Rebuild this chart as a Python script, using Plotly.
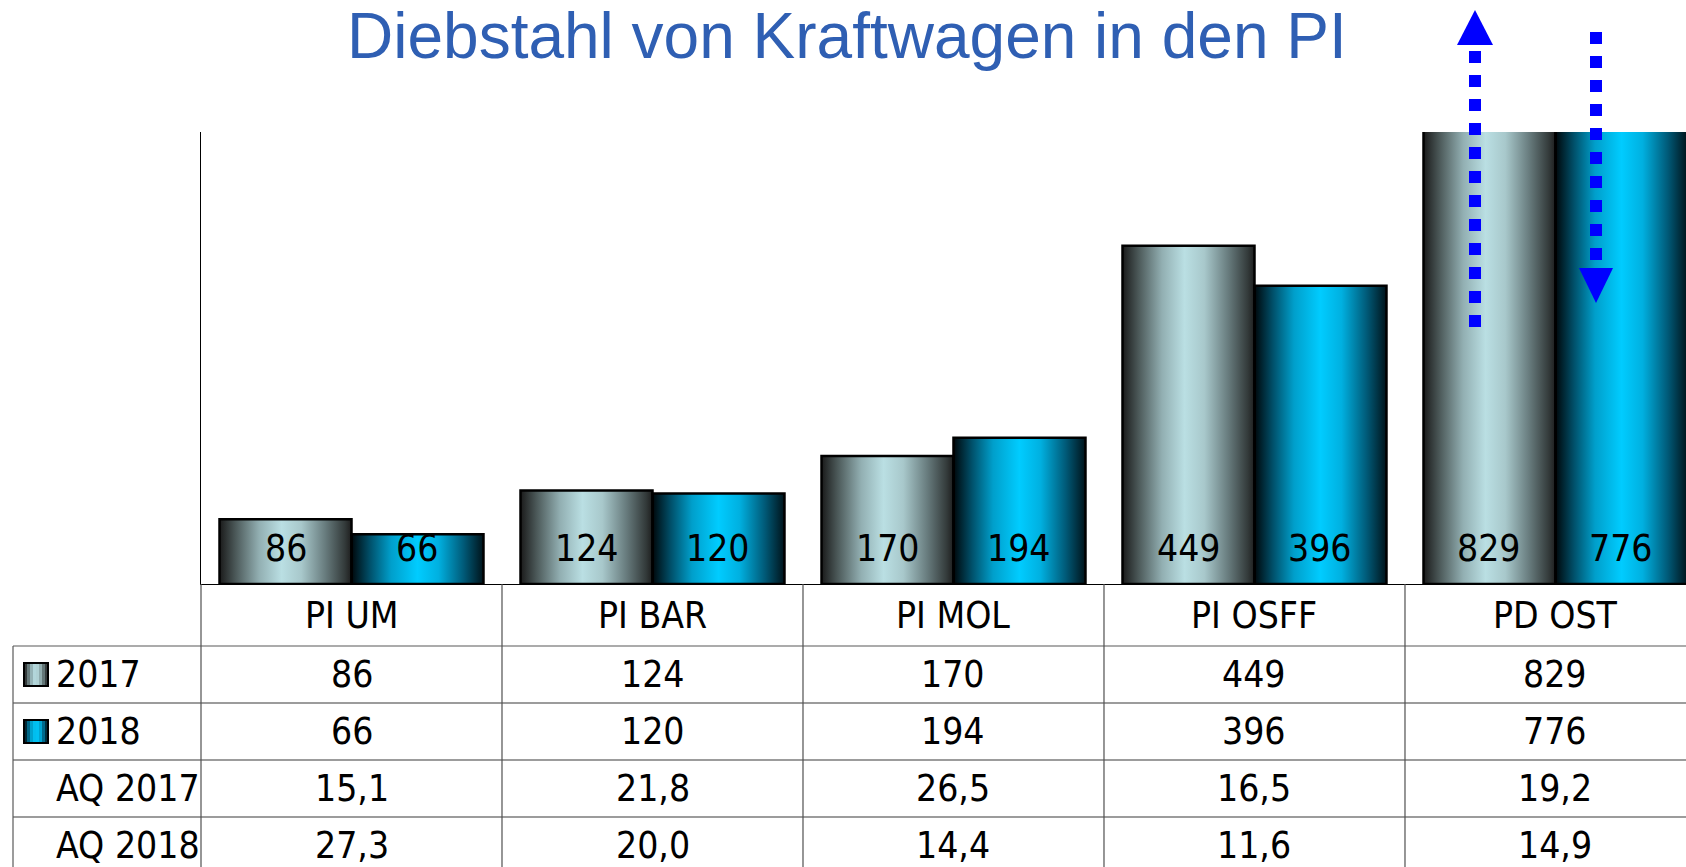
import plotly.graph_objects as go

# ---------------- data ----------------
categories = ["PI UM", "PI BAR", "PI MOL", "PI OSFF", "PD OST"]
series_names = ["2017", "2018"]
values_2017 = [86, 124, 170, 449, 829]
values_2018 = [66, 120, 194, 396, 776]
aq_2017 = ["15,1", "21,8", "26,5", "16,5", "19,2"]
aq_2018 = ["27,3", "20,0", "14,4", "11,6", "14,9"]
row_labels = ["2017", "2018", "AQ 2017", "AQ 2018"]
title_text = "Diebstahl von Kraftwagen in den PI"

# ---------------- layout constants ----------------
W, H = 1686, 867
L_PX, T_PX, BASE_PX = 201, 132, 584
X_MIN, X_MAX = -0.5, 4.4336
Y_MAX = 600
BAR_W = 0.4385

NARROW = "DejaVu Sans Condensed, Liberation Sans Narrow, Arial Narrow, sans-serif"
SANS = "Liberation Sans, Arial, sans-serif"
FS = 37

SCALE_2017 = [[0, "#1a1a1a"], [0.12, "#4b5858"], [0.3, "#92afb2"], [0.47, "#badfe3"],
              [0.62, "#a8c8cb"], [0.8, "#687c7e"], [0.95, "#333a3a"], [1, "#1e1e1e"]]
SCALE_2018 = [[0, "#00070a"], [0.14, "#00506a"], [0.3, "#009fcb"], [0.5, "#00ccff"],
              [0.66, "#00b0e0"], [0.85, "#005a78"], [1, "#00131a"]]
SCALES = [SCALE_2017, SCALE_2018]
series_values = [values_2017, values_2018]
offsets = [-BAR_W, 0.0]


def xp(px):
    return (px - L_PX) / (W - L_PX)


def yp(py):
    return (BASE_PX - py) / (BASE_PX - T_PX)


def xd2p(x):
    return (x - X_MIN) / (X_MAX - X_MIN)


def interp_color(scale, t):
    for (t0, c0), (t1, c1) in zip(scale[:-1], scale[1:]):
        if t0 <= t <= t1:
            f = 0 if t1 == t0 else (t - t0) / (t1 - t0)
            a = [int(c0[k:k + 2], 16) for k in (1, 3, 5)]
            b = [int(c1[k:k + 2], 16) for k in (1, 3, 5)]
            return "rgb(%d,%d,%d)" % tuple(round(a[j] + (b[j] - a[j]) * f) for j in range(3))
    return scale[-1][1]


fig = go.Figure()

# gradient bodies of the bars (main y axis, drawn below)
for s, vals in enumerate(series_values):
    for i, v in enumerate(vals):
        x0 = i + offsets[s]
        x1 = x0 + BAR_W
        fig.add_trace(go.Scatter(
            x=[x0, x1, x1, x0, x0], y=[0, 0, v, v, 0],
            mode="lines", fill="toself", line=dict(width=0, color="rgba(0,0,0,0)"),
            fillgradient=dict(type="horizontal", colorscale=SCALES[s]),
            hoverinfo="skip", showlegend=False,
        ))

# the bars themselves (outlines) on an overlaying axis so they sit on top
for s, vals in enumerate(series_values):
    fig.add_trace(go.Bar(
        x=list(range(len(categories))), y=vals, name=series_names[s],
        width=BAR_W, offset=offsets[s],
        marker=dict(color="rgba(0,0,0,0)", line=dict(color="black", width=2.5)),
        yaxis="y2", showlegend=False,
    ))

annotations = []
# value labels inside bars
for s, vals in enumerate(series_values):
    for i, v in enumerate(vals):
        annotations.append(dict(
            x=i + offsets[s] + BAR_W / 2, xref="x", y=yp(548), yref="paper",
            text=str(v), showarrow=False, xanchor="center", yanchor="middle",
            font=dict(family=NARROW, size=FS, color="black"),
        ))

# table text
row_centers = [674.5, 731.5, 788.5, 845.5]
table_rows = [[str(v) for v in values_2017], [str(v) for v in values_2018], aq_2017, aq_2018]
for i, c in enumerate(categories):
    annotations.append(dict(
        x=i, xref="x", y=yp(615), yref="paper", text=c, showarrow=False,
        xanchor="center", yanchor="middle", font=dict(family=NARROW, size=FS, color="black"),
    ))
    for r, row in enumerate(table_rows):
        annotations.append(dict(
            x=i, xref="x", y=yp(row_centers[r]), yref="paper", text=row[i], showarrow=False,
            xanchor="center", yanchor="middle", font=dict(family=NARROW, size=FS, color="black"),
        ))
for r, lab in enumerate(row_labels):
    annotations.append(dict(
        x=xp(54), xref="paper", y=yp(row_centers[r]), yref="paper", text=lab, showarrow=False,
        xanchor="left", yanchor="middle", font=dict(family=NARROW, size=FS, color="black"),
    ))

# title
annotations.append(dict(
    x=xp(847), xref="paper", y=yp(36), yref="paper", text=title_text, showarrow=False,
    xanchor="center", yanchor="middle", font=dict(family=SANS, size=64, color="#2F5FB3"),
))

shapes = []
# table grid
grid_dark = "#3a3a3a"
shapes.append(dict(type="line", xref="paper", yref="paper", x0=xp(13), x1=1, y0=yp(646), y1=yp(646),
                   line=dict(color="#8f8f8f", width=1.5)))
for py in (703, 760, 817):
    shapes.append(dict(type="line", xref="paper", yref="paper", x0=xp(13), x1=1, y0=yp(py), y1=yp(py),
                       line=dict(color=grid_dark, width=1.2)))
shapes.append(dict(type="line", xref="paper", yref="paper", x0=xp(13), x1=xp(13), y0=yp(646), y1=yp(H + 5),
                   line=dict(color="#5a5a5a", width=1.2)))
for k in range(len(categories)):
    xb = xd2p(k - 0.5)
    shapes.append(dict(type="line", xref="paper", yref="paper", x0=xb, x1=xb, y0=0, y1=yp(H + 5),
                       line=dict(color="#505050", width=1.2)))

# legend markers with small gradients
for s, py0 in enumerate((663, 720)):
    n = 8
    for j in range(n):
        shapes.append(dict(type="rect", xref="paper", yref="paper",
                           x0=xp(24 + j * 24 / n), x1=xp(24 + (j + 1) * 24 / n),
                           y0=yp(py0 + 23), y1=yp(py0),
                           fillcolor=interp_color(SCALES[s], (j + 0.5) / n), line=dict(width=0)))
    shapes.append(dict(type="rect", xref="paper", yref="paper", x0=xp(24), x1=xp(48),
                       y0=yp(py0 + 23), y1=yp(py0), line=dict(color="black", width=2)))

# dotted arrows
BLUE = "#0000ff"
ux = 1475
shapes.append(dict(type="line", xref="paper", yref="paper", x0=xp(ux), x1=xp(ux), y0=yp(327), y1=yp(51),
                   line=dict(color=BLUE, width=12, dash="dot")))
shapes.append(dict(type="path", xref="paper", yref="paper",
                   path="M %f,%f L %f,%f L %f,%f Z" % (xp(ux - 18), yp(45), xp(ux + 18), yp(45), xp(ux), yp(10)),
                   fillcolor=BLUE, line=dict(width=0)))
dx = 1596
shapes.append(dict(type="line", xref="paper", yref="paper", x0=xp(dx), x1=xp(dx), y0=yp(32), y1=yp(260),
                   line=dict(color=BLUE, width=12, dash="dot")))
shapes.append(dict(type="path", xref="paper", yref="paper",
                   path="M %f,%f L %f,%f L %f,%f Z" % (xp(dx - 17), yp(268), xp(dx + 17), yp(268), xp(dx), yp(303)),
                   fillcolor=BLUE, line=dict(width=0)))

fig.update_layout(
    width=W, height=H,
    margin=dict(l=L_PX, r=0, t=T_PX, b=H - BASE_PX, pad=0),
    paper_bgcolor="white", plot_bgcolor="white",
    barmode="overlay", showlegend=False,
    xaxis=dict(range=[X_MIN, X_MAX], showgrid=False, zeroline=False, showticklabels=False,
               ticks="", showline=True, linecolor="black", linewidth=1, fixedrange=True),
    yaxis=dict(range=[0, Y_MAX], showgrid=False, zeroline=False, showticklabels=False,
               ticks="", showline=True, linecolor="black", linewidth=1, fixedrange=True),
    yaxis2=dict(range=[0, Y_MAX], overlaying="y", showgrid=False, zeroline=False,
                showticklabels=False, ticks="", showline=False, fixedrange=True),
    annotations=annotations, shapes=shapes,
)

fig.write_html(
    "out.html",
    config={"displayModeBar": False},
    post_script="document.body.style.margin='0';document.body.style.overflow='hidden';",
)
